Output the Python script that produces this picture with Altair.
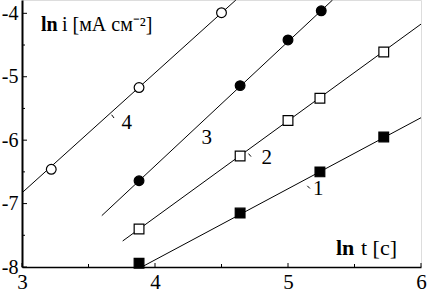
import altair as alt
import pandas as pd

# ---- data ----
s1_x = [3.88, 4.64, 5.24, 5.72]
s1_y = [-7.94, -7.15, -6.50, -5.95]
s2_x = [3.88, 4.64, 5.00, 5.24, 5.72]
s2_y = [-7.40, -6.25, -5.69, -5.34, -4.61]
s3_x = [3.88, 4.64, 5.00, 5.25]
s3_y = [-6.64, -5.14, -4.42, -3.96]
s4_x = [3.22, 3.88, 4.50]
s4_y = [-6.46, -5.17, -3.99]

# fitted lines (start / end points)
line_names = ["1", "2", "3", "4"]
line_x0 = [3.90, 3.757, 3.60, 3.00]
line_y0 = [-8.00, -7.59, -7.19, -6.83]
line_x1 = [6.00, 6.00, 5.335, 4.608]
line_y1 = [-5.646, -4.17, -3.79, -3.79]

# curve labels
lab_text = ["1", "2", "3", "4"]
lab_x = [5.228, 4.84, 4.389, 3.787]
lab_y = [-6.777, -6.288, -5.967, -5.735]

# little leader marks next to labels
lead_x0 = [5.145, 4.703, 3.674]
lead_y0 = [-6.72, -6.212, -5.60]
lead_x1 = [5.165, 4.722, 3.692]
lead_y1 = [-6.762, -6.259, -5.651]

x_ticks_major = [3, 4, 5, 6]
x_ticks_minor = [3.5, 4.5, 5.5]
y_ticks_major = [-8, -7, -6, -5, -4]
y_ticks_minor = [-7.5, -6.5, -5.5, -4.5]

# axis titles, split into bold / regular parts
title_parts = ["ln", "i [мА см⁻²]", "ln", "t [c]"]
title_weights = ["bold", "normal", "bold", "normal"]

X_DOMAIN = [3, 6]
Y_DOMAIN = [-8, -3.79]

W, H = 399, 267
FONT = "Liberation Serif"

xs = alt.Scale(domain=X_DOMAIN, nice=False, zero=False)
ys = alt.Scale(domain=Y_DOMAIN, nice=False, zero=False)

pts = pd.concat([
    pd.DataFrame({"x": s1_x, "y": s1_y, "s": "1"}),
    pd.DataFrame({"x": s2_x, "y": s2_y, "s": "2"}),
    pd.DataFrame({"x": s3_x, "y": s3_y, "s": "3"}),
    pd.DataFrame({"x": s4_x, "y": s4_y, "s": "4"}),
])

lines = pd.DataFrame({"s": line_names, "x0": line_x0, "y0": line_y0,
                      "x1": line_x1, "y1": line_y1})
labels = pd.DataFrame({"t": lab_text, "x": lab_x, "y": lab_y})
leads = pd.DataFrame({"x0": lead_x0, "y0": lead_y0, "x1": lead_x1, "y1": lead_y1})

lbl_expr = "datum.value < 0 ? '-' + abs(datum.value) : '' + datum.value"

xaxis = alt.Axis(values=x_ticks_major, tickSize=0, domainWidth=1.5, domainColor="black",
                 labelFont=FONT, labelFontSize=21, labelColor="black", labelPadding=4,
                 labelExpr=lbl_expr, grid=False, title=None,
                 labelFlush=False, labelOverlap=False)
yaxis = alt.Axis(values=y_ticks_major, tickSize=0, domainWidth=2, domainColor="black",
                 labelFont=FONT, labelFontSize=20, labelColor="black", labelPadding=4,
                 labelExpr=lbl_expr, grid=False, title=None,
                 labelFlush=False, labelOverlap=False)

base_line = alt.Chart(lines).mark_rule(color="black", strokeWidth=1).encode(
    x=alt.X("x0:Q", scale=xs, axis=xaxis),
    y=alt.Y("y0:Q", scale=ys, axis=yaxis),
    x2="x1:Q", y2="y1:Q",
)

lead_marks = alt.Chart(leads).mark_rule(color="black", strokeWidth=1).encode(
    x=alt.X("x0:Q", scale=xs), y=alt.Y("y0:Q", scale=ys), x2="x1:Q", y2="y1:Q")

points = alt.Chart(pts).mark_point(size=95, strokeWidth=1.2, opacity=1).encode(
    x=alt.X("x:Q", scale=xs),
    y=alt.Y("y:Q", scale=ys),
    shape=alt.Shape("s:N", scale=alt.Scale(domain=["1", "2", "3", "4"],
                    range=["square", "square", "circle", "circle"]), legend=None),
    fill=alt.Fill("s:N", scale=alt.Scale(domain=["1", "2", "3", "4"],
                  range=["black", "white", "black", "white"]), legend=None),
    stroke=alt.value("black"),
)

text = alt.Chart(labels).mark_text(font=FONT, fontSize=21, color="black",
                                   align="center", baseline="middle").encode(
    x=alt.X("x:Q", scale=xs), y=alt.Y("y:Q", scale=ys), text="t:N")

def title_text(i, px, py, size):
    return alt.Chart(pd.DataFrame({"t": [title_parts[i]]})).mark_text(
        font=FONT, fontSize=size, fontWeight=title_weights[i], color="black",
        align="left", baseline="alphabetic").encode(
        x=alt.value(px), y=alt.value(py), text="t:N")

titles = [
    title_text(0, 19, 31, 20),
    title_text(1, 40, 31, 20),
    title_text(2, 314, 255, 22),
    title_text(3, 339, 255, 22),
]

xt_major = alt.Chart(pd.DataFrame({"v": x_ticks_major})).mark_rule(color="black", strokeWidth=1).encode(
    x=alt.X("v:Q", scale=xs), y=alt.value(H), y2=alt.value(H - 4))
xt_minor = alt.Chart(pd.DataFrame({"v": x_ticks_minor})).mark_rule(color="black", strokeWidth=1).encode(
    x=alt.X("v:Q", scale=xs), y=alt.value(H), y2=alt.value(H - 3))
yt_major = alt.Chart(pd.DataFrame({"v": y_ticks_major})).mark_rule(color="black", strokeWidth=1).encode(
    y=alt.Y("v:Q", scale=ys), x=alt.value(0), x2=alt.value(5))
yt_minor = alt.Chart(pd.DataFrame({"v": y_ticks_minor})).mark_rule(color="black", strokeWidth=1).encode(
    y=alt.Y("v:Q", scale=ys), x=alt.value(0), x2=alt.value(3))

chart = alt.layer(base_line, lead_marks, xt_major, xt_minor, yt_major, yt_minor,
                  points, text, *titles).properties(
    width=W, height=H,
    autosize=alt.AutoSizeParams(type="none"),
    padding={"left": 22, "top": 0, "right": 6, "bottom": 26},
).configure_view(stroke=None).configure(background="white")

chart.save("out.html", embed_options={"renderer": "svg", "actions": False})
